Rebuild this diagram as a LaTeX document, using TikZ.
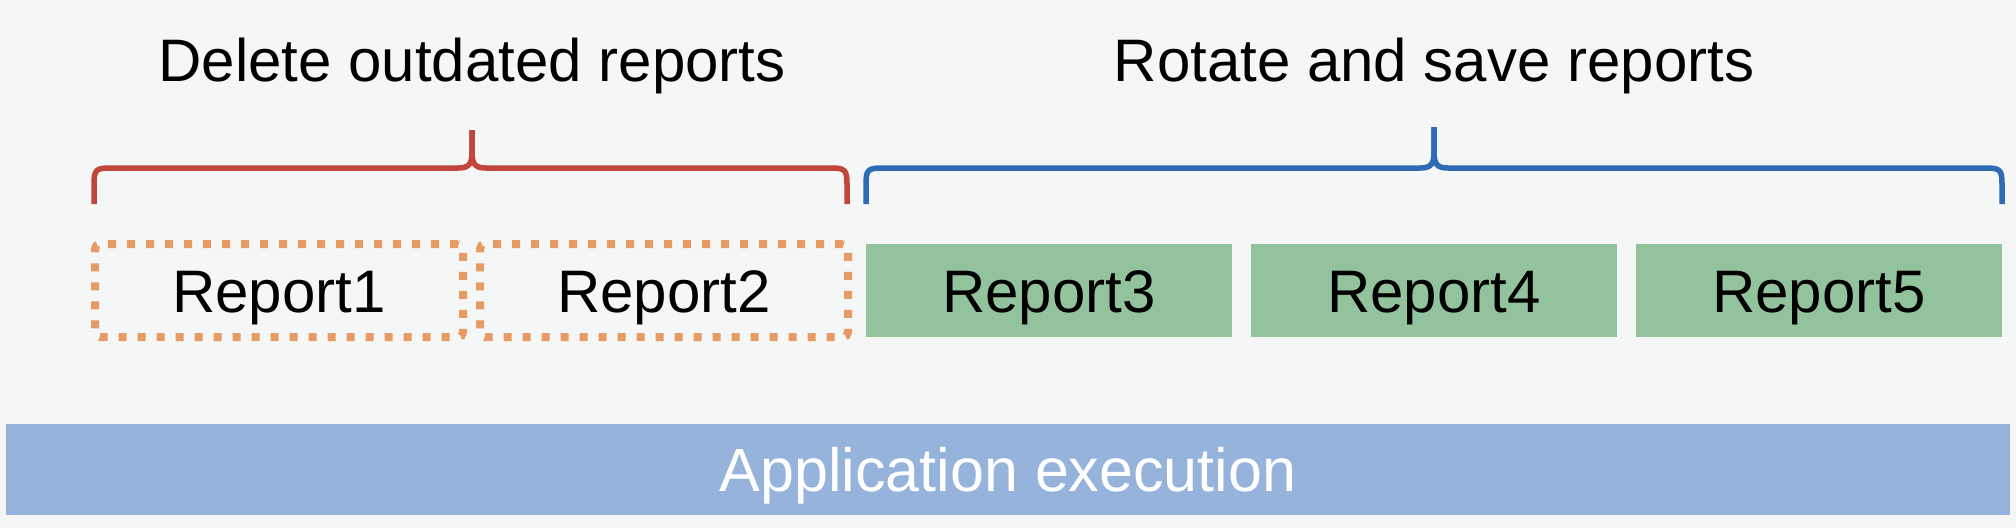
\documentclass[tikz,border=0pt]{standalone}
\usepackage{fontspec}
\setmainfont{Liberation Sans}
\definecolor{bgc}{HTML}{F5F6F6}
\definecolor{bracered}{HTML}{C0453A}
\definecolor{braceblue}{HTML}{2E6BB5}
\definecolor{dotorange}{HTML}{E59B63}
\definecolor{boxgreen}{HTML}{93C39D}
\definecolor{barblue}{HTML}{96B3DC}
\begin{document}
\begin{tikzpicture}[x=1pt,y=-1pt,
  titletext/.style={font=\fontsize{60}{70}\selectfont, text=black, anchor=base},
  oldreport/.style={draw=dotorange, line width=8pt, dash pattern=on 8pt off 11pt,
     rounded corners=5pt, minimum width=368pt, minimum height=93pt, inner sep=0pt,
     font=\fontsize{60}{68}\selectfont, text height=43pt, text depth=0pt},
  newreport/.style={fill=boxgreen, draw=none, minimum width=366pt, minimum height=93pt,
     inner sep=0pt, font=\fontsize{60}{68}\selectfont, text height=43pt, text depth=0pt},
  appbar/.style={fill=barblue, draw=none, minimum width=2004pt, minimum height=91pt,
     inner sep=0pt, font=\fontsize{61}{70}\selectfont, text=white, text height=44pt, text depth=0pt},
  bracestyle/.style={line width=5.5pt, line join=round, line cap=butt}]
\fill[bgc] (0,0) rectangle (2016,528);
\useasboundingbox (0,0) rectangle (2016,528);

% titles
\node[titletext] (t1) at (472,81) {Delete outdated reports};
\node[titletext] (t2) at (1434,81) {Rotate and save reports};

% braces
\coordinate (rl) at (94,204);
\coordinate (rtip) at (472,130);
\coordinate (rr) at (847,204);
\draw[bracestyle, bracered] (rl) -- (94,184) .. controls (94,170) and (96,168) .. (110,168)
  -- (458,168) .. controls (469,168) and (472,164) .. (472,152) -- (rtip);
\draw[bracestyle, bracered] (rtip) -- (472,152) .. controls (472,164) and (475,168) .. (486,168)
  -- (831,168) .. controls (845,168) and (847,170) .. (847,184) -- (rr);

\coordinate (bl) at (866,204);
\coordinate (btip) at (1434,127);
\coordinate (br) at (2002,204);
\draw[bracestyle, braceblue] (bl) -- (866,184) .. controls (866,170) and (868,168) .. (882,168)
  -- (1420,168) .. controls (1431,168) and (1434,164) .. (1434,152) -- (btip);
\draw[bracestyle, braceblue] (btip) -- (1434,152) .. controls (1434,164) and (1437,168) .. (1448,168)
  -- (1986,168) .. controls (2000,168) and (2002,170) .. (2002,184) -- (br);

% reports
\node[oldreport] (r1) at (279,290.5) {Report1};
\node[oldreport] (r2) at (664,290.5) {Report2};
\node[newreport] (r3) at (1049,290.5) {Report3};
\node[newreport] (r4) at (1434,290.5) {Report4};
\node[newreport] (r5) at (1819,290.5) {Report5};

% application bar
\node[appbar] (app) at (1008,469.5) {Application execution};
\end{tikzpicture}
\end{document}
